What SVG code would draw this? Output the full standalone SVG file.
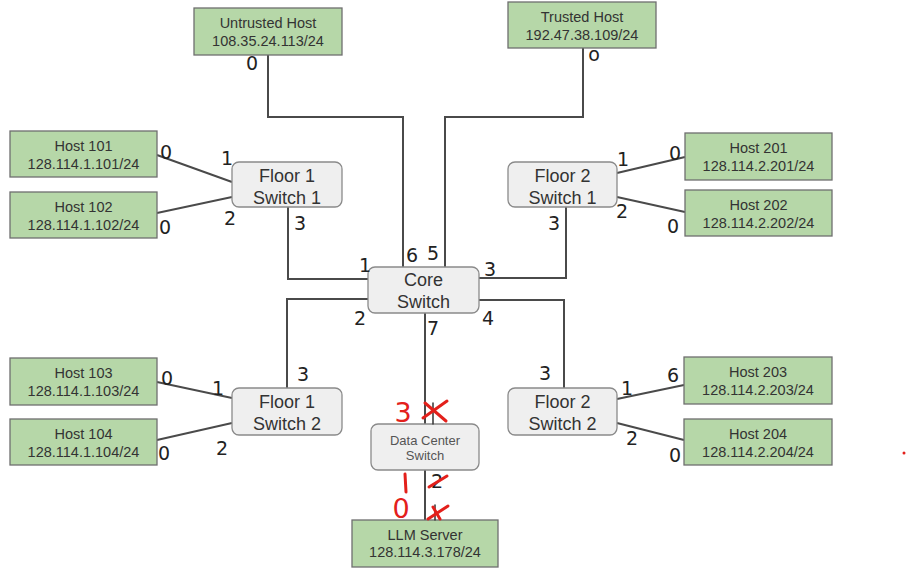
<svg xmlns="http://www.w3.org/2000/svg" width="908" height="583" viewBox="0 0 908 583">
  <style>
    .host rect { fill: #b6d7a8; stroke: #6f6f6f; stroke-width: 1.3; }
    .host text { font-family: "Liberation Sans", Arial, sans-serif; font-size: 14.5px; fill: #333; text-anchor: middle; }
    .sw rect { fill: #efefef; stroke: #8a8a8a; stroke-width: 1.3; }
    .sw text { font-family: "Liberation Sans", Arial, sans-serif; font-size: 18px; fill: #333; text-anchor: middle; }
    .dc text { font-size: 13px; fill: #555; }
    .links path { fill: none; stroke: #4a4a4a; stroke-width: 2; }
    .port { font-family: "DejaVu Sans", sans-serif; font-size: 19px; fill: #222; text-anchor: middle; }
    .red { font-family: "DejaVu Sans", sans-serif; font-size: 27px; fill: #e3201b; text-anchor: middle; }
    .strike { fill: none; stroke: #e3201b; stroke-width: 3; stroke-linecap: round; }
    .ink { fill: none; stroke: #333; stroke-width: 1.5; stroke-linecap: round; }
  </style>

  <!-- connectors -->
  <g id="links" class="links">
    <path d="M268 55 V117 H403 V267"/>
    <path d="M583 48 V117 H445 V267"/>
    <path d="M157 155 L232 182"/>
    <path d="M157 213 L232 197"/>
    <path d="M288 207 V279 H368"/>
    <path d="M617 173 L685 157"/>
    <path d="M617 197 L685 212"/>
    <path d="M566 207 V278 H479"/>
    <path d="M368 299 H287 V388"/>
    <path d="M157 382 L232 398"/>
    <path d="M157 440 L232 423"/>
    <path d="M479 300 H564 V388"/>
    <path d="M617 399 L684 385"/>
    <path d="M617 423 L684 440"/>
    <path d="M425 313 V424"/>
    <path d="M425 470 V520"/>
  </g>

  <!-- hosts -->
  <g id="untrusted-host" class="host">
    <rect x="194" y="8" width="148" height="47"/>
    <text x="268" y="28">Untrusted Host</text>
    <text x="268" y="46">108.35.24.113/24</text>
  </g>
  <g id="trusted-host" class="host">
    <rect x="508" y="2" width="148" height="46"/>
    <text x="582" y="22">Trusted Host</text>
    <text x="582" y="40">192.47.38.109/24</text>
  </g>
  <g id="host-101" class="host">
    <rect x="10" y="131" width="147" height="46"/>
    <text x="83.5" y="151">Host 101</text>
    <text x="83.5" y="168.5">128.114.1.101/24</text>
  </g>
  <g id="host-102" class="host">
    <rect x="10" y="192" width="147" height="46"/>
    <text x="83.5" y="212">Host 102</text>
    <text x="83.5" y="229.5">128.114.1.102/24</text>
  </g>
  <g id="host-201" class="host">
    <rect x="685" y="133" width="147" height="47"/>
    <text x="758.5" y="153">Host 201</text>
    <text x="758.5" y="171">128.114.2.201/24</text>
  </g>
  <g id="host-202" class="host">
    <rect x="685" y="190" width="147" height="46"/>
    <text x="758.5" y="210">Host 202</text>
    <text x="758.5" y="227.5">128.114.2.202/24</text>
  </g>
  <g id="host-103" class="host">
    <rect x="10" y="358" width="147" height="47"/>
    <text x="83.5" y="378">Host 103</text>
    <text x="83.5" y="396">128.114.1.103/24</text>
  </g>
  <g id="host-104" class="host">
    <rect x="10" y="419" width="147" height="46"/>
    <text x="83.5" y="439">Host 104</text>
    <text x="83.5" y="456.5">128.114.1.104/24</text>
  </g>
  <g id="host-203" class="host">
    <rect x="684" y="357" width="148" height="47"/>
    <text x="758" y="377">Host 203</text>
    <text x="758" y="395">128.114.2.203/24</text>
  </g>
  <g id="host-204" class="host">
    <rect x="684" y="419" width="148" height="46"/>
    <text x="758" y="439">Host 204</text>
    <text x="758" y="456.5">128.114.2.204/24</text>
  </g>
  <g id="llm-server" class="host">
    <rect x="352" y="520" width="146" height="47"/>
    <text x="425" y="539.5">LLM Server</text>
    <text x="425" y="557">128.114.3.178/24</text>
  </g>

  <!-- switches -->
  <g id="floor1-switch1" class="sw">
    <rect x="232" y="162" width="110" height="45" rx="7"/>
    <text x="287" y="181.5">Floor 1</text>
    <text x="287" y="203.5">Switch 1</text>
  </g>
  <g id="floor2-switch1" class="sw">
    <rect x="508" y="162" width="109" height="45" rx="7"/>
    <text x="562.5" y="181.5">Floor 2</text>
    <text x="562.5" y="203.5">Switch 1</text>
  </g>
  <g id="core-switch" class="sw">
    <rect x="368" y="267" width="111" height="46" rx="7"/>
    <text x="423.5" y="286">Core</text>
    <text x="423.5" y="307.5">Switch</text>
  </g>
  <g id="floor1-switch2" class="sw">
    <rect x="232" y="388" width="110" height="47" rx="7"/>
    <text x="287" y="407.5">Floor 1</text>
    <text x="287" y="429.5">Switch 2</text>
  </g>
  <g id="floor2-switch2" class="sw">
    <rect x="508" y="388" width="109" height="47" rx="7"/>
    <text x="562.5" y="407.5">Floor 2</text>
    <text x="562.5" y="429.5">Switch 2</text>
  </g>
  <g id="datacenter-switch" class="sw dc">
    <rect x="371" y="424" width="108" height="46" rx="7"/>
    <text x="425" y="445">Data Center</text>
    <text x="425" y="460">Switch</text>
  </g>

  <!-- port numbers -->
  <g id="ports">
    <text class="port" x="252" y="70" font-size="16">0</text>
    <text class="port" x="594" y="61" font-size="13">o</text>
    <text class="port" x="166" y="159">0</text>
    <text class="port" x="227" y="165">1</text>
    <text class="port" x="230" y="225">2</text>
    <text class="port" x="165" y="234">0</text>
    <text class="port" x="300" y="230">3</text>
    <text class="port" x="623" y="166">1</text>
    <text class="port" x="675" y="160">0</text>
    <text class="port" x="622" y="218">2</text>
    <text class="port" x="673" y="233">0</text>
    <text class="port" x="554" y="230">3</text>
    <text class="port" x="365" y="272">1</text>
    <text class="port" x="412" y="262">6</text>
    <text class="port" x="433" y="260">5</text>
    <text class="port" x="490" y="276">3</text>
    <text class="port" x="360" y="325">2</text>
    <text class="port" x="433" y="335">7</text>
    <text class="port" x="488" y="325">4</text>
    <text class="port" x="303" y="381">3</text>
    <text class="port" x="218" y="395">1</text>
    <text class="port" x="167" y="385">0</text>
    <text class="port" x="222" y="455">2</text>
    <text class="port" x="164" y="460">0</text>
    <text class="port" x="545" y="380">3</text>
    <text class="port" x="627" y="395">1</text>
    <text class="port" x="673" y="382">6</text>
    <text class="port" x="632" y="445">2</text>
    <text class="port" x="675" y="462">0</text>
  </g>

  <!-- corrections on the data center links -->
  <g id="datacenter-ports">
    <path class="ink" d="M433 403 V424"/>
    <text class="port" x="437" y="488" font-size="14">2</text>
    <path class="ink" d="M435 505 V520"/>
    <path class="strike" d="M423 418 L447 401 M425 403 L446 421"/>
    <path class="strike" d="M429 487 L447 476"/>
    <path class="strike" d="M428 519 L448 506 M433 507 L440 519"/>
    <text class="red" x="403" y="422">3</text>
    <path class="strike" d="M405 474 L406 492"/>
    <text class="red" x="401" y="518">0</text>
    <circle cx="904" cy="453" r="1.5" fill="#e3201b"/>
  </g>
</svg>
